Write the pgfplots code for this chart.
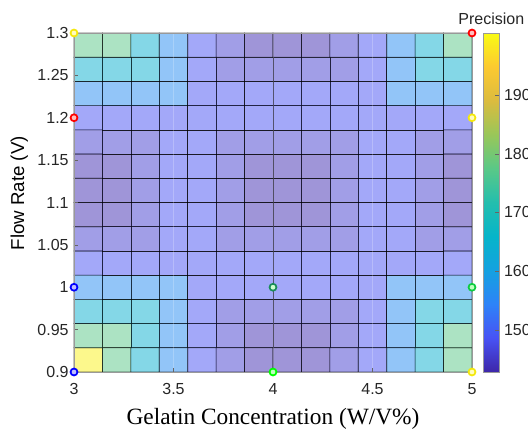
\documentclass[border=0pt]{standalone}
\usepackage{pgfplots}
\pgfplotsset{compat=1.18}
\usepackage{fontspec}
\setmainfont{Liberation Sans}
\newfontfamily\timesfont{Liberation Serif}
\pgfplotsset{/pgf/number format/assume math mode=true}
\pgfplotsset{colormap={parula}{
rgb=(0.2422,0.1504,0.6603)
rgb=(0.2810,0.3228,0.9579)
rgb=(0.1786,0.5129,0.9720)
rgb=(0.0780,0.6320,0.8800)
rgb=(0.0220,0.7080,0.7900)
rgb=(0.1400,0.7450,0.6800)
rgb=(0.3500,0.7850,0.5300)
rgb=(0.6000,0.7780,0.3500)
rgb=(0.8600,0.7350,0.2450)
rgb=(0.9900,0.7900,0.1900)
rgb=(0.9769,0.9839,0.0805)}}
\begin{document}
\begin{tikzpicture}
\begin{axis}[
  at={(0,0)}, anchor=south west,
  scale only axis, width=298.5pt, height=254.25pt,
  xmin=3, xmax=5, ymin=0.9, ymax=1.3,
  xtick={3,3.5,4,4.5,5}, xticklabels={3,3.5,4,4.5,5},
  ytick={0.9,0.95,1,1.05,1.1,1.15,1.2,1.25,1.3},
  yticklabels={0.9,0.95,1,1.05,1.1,1.15,1.2,1.25,1.3},
  xtick pos=left, ytick pos=left, tick align=inside,
  major tick length=3pt,
  tick style={black!60, line width=0.4pt},
  axis line style={black!40, line width=0.5pt},
  tick label style={font=\fontsize{12}{14}\selectfont, text=black!85},
  xticklabel style={yshift=-5pt},
  yticklabel style={xshift=-0.5pt},
  xlabel={\timesfont Gelatin Concentration (W/V\%)},
  ylabel={Flow Rate (V)},
  every axis x label/.style={at={(axis description cs:0.5,0)}, anchor=center, yshift=-35pt, font=\fontsize{17.5}{20}\selectfont},
  every axis y label/.style={at={(axis description cs:0,0.5)}, anchor=center, rotate=90, yshift=41pt, xshift=7pt, font=\fontsize{14}{16}\selectfont},
  xmajorgrids, major grid style={white, opacity=0.22, line width=0.6pt},
  axis on top, clip=false,
  colormap name=parula,
  point meta min=142.8, point meta max=200.6,
  colorbar,
  colorbar style={
    at={([xshift=9pt]parent axis.north east)}, anchor=north west,
    width=12pt,
    ytick={150,160,170,180,190},
    ytick pos=right, tick align=inside,
    major tick length=3pt,
    tick style={black!60},
    axis line style={black!40},
    yticklabel style={font=\fontsize{12}{14}\selectfont, text=black!85},
    title={Precision},
    title style={font=\fontsize{12}{14}\selectfont, yshift=-3pt, text=black!85},
  },
]
\addplot[matrix plot*, mesh/cols=14, point meta=explicit, shader=faceted, faceted color=black, fill opacity=0.5, draw opacity=0.6, line width=0.5pt] coordinates {
(3.0714,0.91429)[199.5] (3.2143,0.91429)[177.5] (3.3571,0.91429)[164.5] (3.5,0.91429)[156] (3.6429,0.91429)[148.6] (3.7857,0.91429)[145.8] (3.9286,0.91429)[143.5] (4.0714,0.91429)[143.5] (4.2143,0.91429)[143.5] (4.3571,0.91429)[145.8] (4.5,0.91429)[148.6] (4.6429,0.91429)[156] (4.7857,0.91429)[164.5] (4.9286,0.91429)[177.5]
(3.0714,0.94286)[177.5] (3.2143,0.94286)[177.5] (3.3571,0.94286)[164.5] (3.5,0.94286)[156] (3.6429,0.94286)[148.6] (3.7857,0.94286)[145.8] (3.9286,0.94286)[143.5] (4.0714,0.94286)[143.5] (4.2143,0.94286)[143.5] (4.3571,0.94286)[145.8] (4.5,0.94286)[148.6] (4.6429,0.94286)[156] (4.7857,0.94286)[164.5] (4.9286,0.94286)[177.5]
(3.0714,0.97143)[164.5] (3.2143,0.97143)[164.5] (3.3571,0.97143)[164.5] (3.5,0.97143)[156] (3.6429,0.97143)[148.6] (3.7857,0.97143)[145.8] (3.9286,0.97143)[145.8] (4.0714,0.97143)[145.8] (4.2143,0.97143)[145.8] (4.3571,0.97143)[145.8] (4.5,0.97143)[148.6] (4.6429,0.97143)[156] (4.7857,0.97143)[164.5] (4.9286,0.97143)[164.5]
(3.0714,1.0)[156] (3.2143,1.0)[156] (3.3571,1.0)[156] (3.5,1.0)[156] (3.6429,1.0)[148.6] (3.7857,1.0)[148.6] (3.9286,1.0)[148.6] (4.0714,1.0)[148.6] (4.2143,1.0)[148.6] (4.3571,1.0)[148.6] (4.5,1.0)[148.6] (4.6429,1.0)[156] (4.7857,1.0)[156] (4.9286,1.0)[156]
(3.0714,1.02857)[148.6] (3.2143,1.02857)[148.6] (3.3571,1.02857)[148.6] (3.5,1.02857)[148.6] (3.6429,1.02857)[148.6] (3.7857,1.02857)[148.6] (3.9286,1.02857)[148.6] (4.0714,1.02857)[148.6] (4.2143,1.02857)[148.6] (4.3571,1.02857)[148.6] (4.5,1.02857)[148.6] (4.6429,1.02857)[148.6] (4.7857,1.02857)[148.6] (4.9286,1.02857)[148.6]
(3.0714,1.05714)[145.8] (3.2143,1.05714)[145.8] (3.3571,1.05714)[145.8] (3.5,1.05714)[148.6] (3.6429,1.05714)[148.6] (3.7857,1.05714)[145.8] (3.9286,1.05714)[145.8] (4.0714,1.05714)[145.8] (4.2143,1.05714)[145.8] (4.3571,1.05714)[145.8] (4.5,1.05714)[148.6] (4.6429,1.05714)[148.6] (4.7857,1.05714)[145.8] (4.9286,1.05714)[145.8]
(3.0714,1.08571)[143.5] (3.2143,1.08571)[143.5] (3.3571,1.08571)[145.8] (3.5,1.08571)[148.6] (3.6429,1.08571)[148.6] (3.7857,1.08571)[145.8] (3.9286,1.08571)[143.5] (4.0714,1.08571)[143.5] (4.2143,1.08571)[143.5] (4.3571,1.08571)[145.8] (4.5,1.08571)[148.6] (4.6429,1.08571)[148.6] (4.7857,1.08571)[145.8] (4.9286,1.08571)[143.5]
(3.0714,1.11429)[143.5] (3.2143,1.11429)[143.5] (3.3571,1.11429)[145.8] (3.5,1.11429)[148.6] (3.6429,1.11429)[148.6] (3.7857,1.11429)[145.8] (3.9286,1.11429)[143.5] (4.0714,1.11429)[143.5] (4.2143,1.11429)[143.5] (4.3571,1.11429)[145.8] (4.5,1.11429)[148.6] (4.6429,1.11429)[148.6] (4.7857,1.11429)[145.8] (4.9286,1.11429)[143.5]
(3.0714,1.14286)[143.5] (3.2143,1.14286)[143.5] (3.3571,1.14286)[145.8] (3.5,1.14286)[148.6] (3.6429,1.14286)[148.6] (3.7857,1.14286)[145.8] (3.9286,1.14286)[143.5] (4.0714,1.14286)[143.5] (4.2143,1.14286)[143.5] (4.3571,1.14286)[145.8] (4.5,1.14286)[148.6] (4.6429,1.14286)[148.6] (4.7857,1.14286)[145.8] (4.9286,1.14286)[143.5]
(3.0714,1.17143)[145.8] (3.2143,1.17143)[145.8] (3.3571,1.17143)[145.8] (3.5,1.17143)[148.6] (3.6429,1.17143)[148.6] (3.7857,1.17143)[145.8] (3.9286,1.17143)[145.8] (4.0714,1.17143)[145.8] (4.2143,1.17143)[145.8] (4.3571,1.17143)[145.8] (4.5,1.17143)[148.6] (4.6429,1.17143)[148.6] (4.7857,1.17143)[145.8] (4.9286,1.17143)[145.8]
(3.0714,1.2)[148.6] (3.2143,1.2)[148.6] (3.3571,1.2)[148.6] (3.5,1.2)[148.6] (3.6429,1.2)[148.6] (3.7857,1.2)[148.6] (3.9286,1.2)[148.6] (4.0714,1.2)[148.6] (4.2143,1.2)[148.6] (4.3571,1.2)[148.6] (4.5,1.2)[148.6] (4.6429,1.2)[148.6] (4.7857,1.2)[148.6] (4.9286,1.2)[148.6]
(3.0714,1.22857)[156] (3.2143,1.22857)[156] (3.3571,1.22857)[156] (3.5,1.22857)[156] (3.6429,1.22857)[148.6] (3.7857,1.22857)[148.6] (3.9286,1.22857)[148.6] (4.0714,1.22857)[148.6] (4.2143,1.22857)[148.6] (4.3571,1.22857)[148.6] (4.5,1.22857)[148.6] (4.6429,1.22857)[156] (4.7857,1.22857)[156] (4.9286,1.22857)[156]
(3.0714,1.25714)[164.5] (3.2143,1.25714)[164.5] (3.3571,1.25714)[164.5] (3.5,1.25714)[156] (3.6429,1.25714)[148.6] (3.7857,1.25714)[145.8] (3.9286,1.25714)[145.8] (4.0714,1.25714)[145.8] (4.2143,1.25714)[145.8] (4.3571,1.25714)[145.8] (4.5,1.25714)[148.6] (4.6429,1.25714)[156] (4.7857,1.25714)[164.5] (4.9286,1.25714)[164.5]
(3.0714,1.28571)[177.5] (3.2143,1.28571)[177.5] (3.3571,1.28571)[164.5] (3.5,1.28571)[156] (3.6429,1.28571)[148.6] (3.7857,1.28571)[145.8] (3.9286,1.28571)[143.5] (4.0714,1.28571)[143.5] (4.2143,1.28571)[143.5] (4.3571,1.28571)[145.8] (4.5,1.28571)[148.6] (4.6429,1.28571)[156] (4.7857,1.28571)[164.5] (4.9286,1.28571)[177.5]
};
\addplot[only marks, mark=*, mark size=2.6pt, mark options={draw=blue, fill=blue!25!white, line width=1.3pt}] coordinates {(3,0.9) (3,1)};
\addplot[only marks, mark=*, mark size=2.6pt, mark options={draw=red, fill=red!25!white, line width=1.3pt}] coordinates {(3,1.2) (5,1.3)};
\addplot[only marks, mark=*, mark size=2.6pt, mark options={draw=yellow!95!black, fill=yellow!25!white, line width=1.3pt}] coordinates {(3,1.3) (5,1.2) (5,0.9)};
\addplot[only marks, mark=*, mark size=2.6pt, mark options={draw={rgb,1:red,0;green,1;blue,0}, fill=green!25!white, line width=1.3pt}] coordinates {(4,0.9)};
\addplot[only marks, mark=*, mark size=2.6pt, mark options={draw={rgb,1:red,0.05;green,0.8;blue,0.25}, fill=green!25!white, line width=1.3pt}] coordinates {(5,1)};
\addplot[only marks, mark=*, mark size=2.6pt, mark options={draw={rgb,1:red,0.1;green,0.55;blue,0.35}, fill=green!20!white, line width=1.3pt}] coordinates {(4,1)};
\end{axis}
\pgfresetboundingbox
\path[use as bounding box] (-55.5pt,-47.25pt) rectangle (340.5pt,279pt);
\end{tikzpicture}
\end{document}
